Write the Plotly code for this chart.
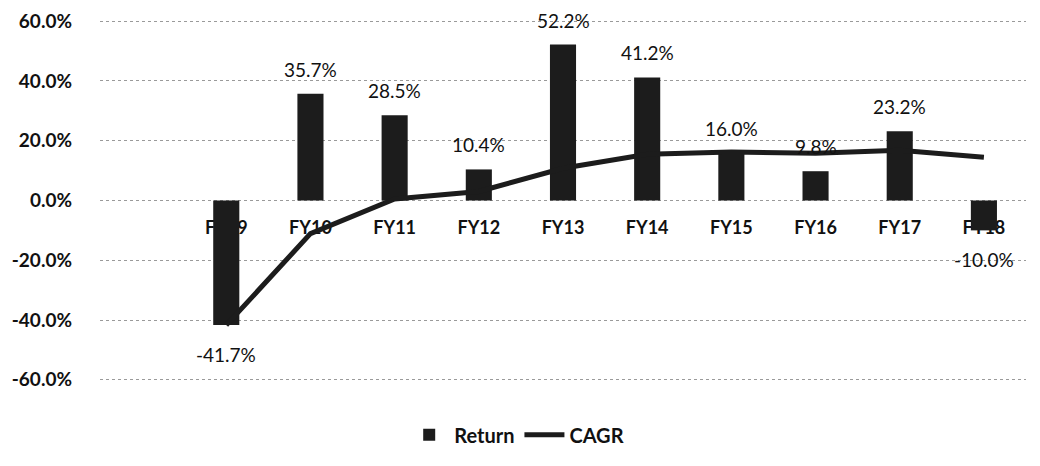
import plotly.graph_objects as go

categories = ["FY09", "FY10", "FY11", "FY12", "FY13", "FY14", "FY15", "FY16", "FY17", "FY18"]
returns = [-41.7, 35.7, 28.5, 10.4, 52.2, 41.2, 16.0, 9.8, 23.2, -10.0]
cagr = [-41.7, -11.1, 0.5, 3.0, 10.8, 15.5, 16.2, 15.8, 16.8, 14.5]
y_ticks = [-60, -40, -20, 0, 20, 40, 60]
y_tick_text = ["-60.0%", "-40.0%", "-20.0%", "0.0%", "20.0%", "40.0%", "60.0%"]

FONT = "Lato, 'Open Sans', sans-serif"

fig = go.Figure()
fig.add_trace(go.Bar(
    x=categories, y=returns, name="Return",
    marker=dict(color="#1c1c1c", line=dict(width=0)),
    width=0.31,
))
fig.add_trace(go.Scatter(
    x=categories, y=cagr, name="CAGR", mode="lines",
    line=dict(color="#1c1c1c", width=5),
))

for c, v in zip(categories, returns):
    fig.add_annotation(
        x=c, y=v, text=f"{v:.1f}%", showarrow=False,
        yanchor="bottom" if v >= 0 else "top",
        yshift=11 if v >= 0 else -16,
        font=dict(family=FONT, size=19, color="#111"),
    )

fig.update_layout(
    width=1032, height=458,
    margin=dict(l=92, r=14, t=12, b=85, autoexpand=False),
    paper_bgcolor="white", plot_bgcolor="white",
    showlegend=True,
    legend=dict(orientation="h", x=0.45, xanchor="center",
                yref="container", y=0.068, yanchor="middle",
                font=dict(family=FONT, size=20, color="#111", weight="bold"),
                itemwidth=40),
    xaxis=dict(
        type="category", categoryorder="array", categoryarray=categories,
        range=[-1.5, 9.5],
        anchor="free", position=0.5, automargin=False,
        showgrid=False, showline=False, zeroline=False, ticks="",
        ticklabelstandoff=14,
        layer="below traces",
        tickfont=dict(family=FONT, size=18, color="#111", weight="bold"),
    ),
    yaxis=dict(
        range=[-60.4, 60.4], tickvals=y_ticks, ticktext=y_tick_text,
        automargin=False,
        showgrid=True, gridcolor="#9a9a9a", griddash="dot", gridwidth=1,
        zeroline=False, showline=False, ticks="",
        ticklabelstandoff=27,
        tickfont=dict(family=FONT, size=19, color="#111", weight="bold"),
    ),
)

fig.write_html("out.html")
